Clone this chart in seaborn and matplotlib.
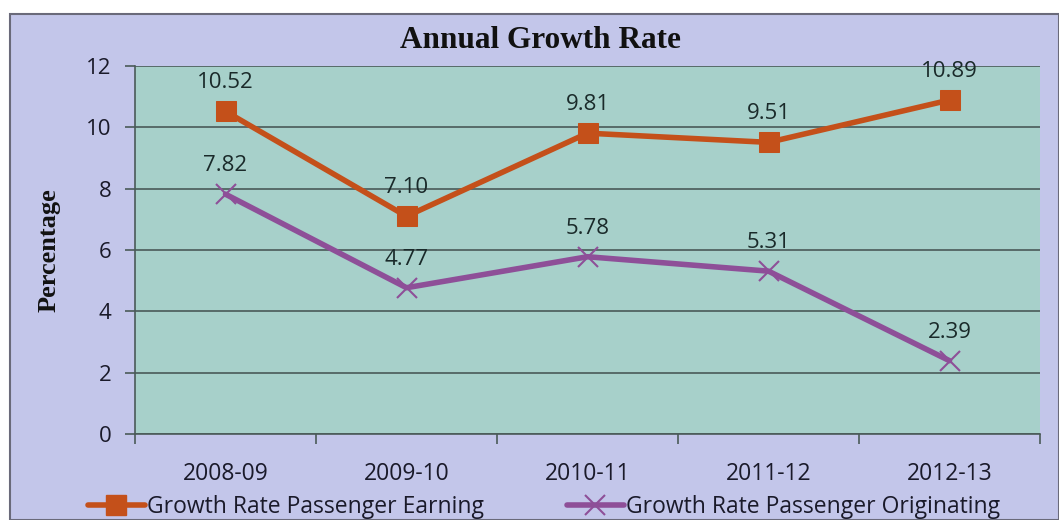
import matplotlib
matplotlib.use("Agg")
import matplotlib.pyplot as plt
import seaborn as sns
import pandas as pd
from matplotlib.patches import Rectangle
from matplotlib.lines import Line2D

years = ["2008-09", "2009-10", "2010-11", "2011-12", "2012-13"]
earning = [10.52, 7.10, 9.81, 9.51, 10.89]
originating = [7.82, 4.77, 5.78, 5.31, 2.39]
name_earning = "Growth Rate Passenger Earning"
name_orig = "Growth Rate Passenger Originating"

sns.set_theme(style="white")
plt.rcParams['font.family'] = ['Open Sans', 'DejaVu Sans']

c_earn = "#c4501a"
c_orig = "#8e4f98"

fig = plt.figure(figsize=(10.59, 5.2), dpi=100)
fig.patch.set_facecolor("white")
fig.patches.append(Rectangle((10/1059, 0), 1 - 10/1059, 1 - 14/520, transform=fig.transFigure,
                             facecolor="#c3c6ea", edgecolor="#6a6a7a", linewidth=1.5, zorder=-10))
ax = fig.add_axes([135/1059, 1 - 434/520, (1040 - 135)/1059, (434 - 66)/520])
ax.set_facecolor("#a7d0ca")

x = list(range(len(years)))
df = pd.DataFrame({"x": x + x, "val": earning + originating,
                   "series": [name_earning] * 5 + [name_orig] * 5})
sns.lineplot(data=df[df.series == name_earning], x="x", y="val", ax=ax, color=c_earn,
             linewidth=4, marker="s", markersize=14, markeredgecolor=c_earn, legend=False, zorder=5)
sns.lineplot(data=df[df.series == name_orig], x="x", y="val", ax=ax, color=c_orig,
             linewidth=4, marker="x", markersize=14, markeredgewidth=1.5, markeredgecolor=c_orig,
             legend=False, zorder=4)

for xi, v in zip(x, earning):
    ax.annotate(f"{v:.2f}", (xi, v), xytext=(0, 13), textcoords="offset points",
                ha="center", va="bottom", fontsize=16, color="#1a2a2a")
for xi, v in zip(x, originating):
    ax.annotate(f"{v:.2f}", (xi, v), xytext=(0, 13), textcoords="offset points",
                ha="center", va="bottom", fontsize=16, color="#1a2a2a")

ax.set_xlim(-0.5, 4.5)
ax.set_ylim(0, 12)
ax.set_yticks(range(0, 13, 2))
ax.yaxis.grid(True, color="#4a5a58", linewidth=1.2)
ax.set_axisbelow(True)
ax.set_xticks([i - 0.5 for i in range(6)])
ax.set_xticklabels([])
ax.set_xticks(x, minor=True)
ax.set_xticklabels(years, minor=True)
ax.tick_params(axis="x", which="major", length=7, width=1.2, color="#4a5a58", direction="out", bottom=True)
ax.tick_params(axis="x", which="minor", length=0, pad=20, labelsize=16.5, labelcolor="#1a1a2a")
ax.tick_params(axis="y", length=7, width=1.2, color="#4a5a58", direction="out", left=True, labelsize=16,
               labelcolor="#1a1a2a", pad=10)
for s in ["top", "right"]:
    ax.spines[s].set_visible(False)
ax.spines["left"].set_color("#4a5a58")
ax.spines["bottom"].set_color("#4a5a58")
ax.spines["left"].set_linewidth(1.2)
ax.spines["bottom"].set_linewidth(1.2)
ax.set_xlabel("")
ax.set_ylabel("Percentage", family="Liberation Serif", fontweight="bold", fontsize=19, labelpad=18,
              color="#111111")
fig.text(540/1059, 1 - 40/520, "Annual Growth Rate", family="Liberation Serif", fontweight="bold",
         fontsize=22.5, color="#111111", ha="center", va="center")

handles = [Line2D([], [], color=c_earn, linewidth=4, marker="s", markersize=14),
           Line2D([], [], color=c_orig, linewidth=4, marker="x", markersize=14, markeredgewidth=1.5)]
fig.legend(handles, [name_earning, name_orig], loc="center", bbox_to_anchor=(544/1059, 1 - 507/520),
           ncol=2, frameon=False, fontsize=16.5, handlelength=2.5, handletextpad=0.1, columnspacing=3.6,
           labelcolor="#1a1a2a", borderpad=0)

fig.savefig("out.png", dpi=100)
